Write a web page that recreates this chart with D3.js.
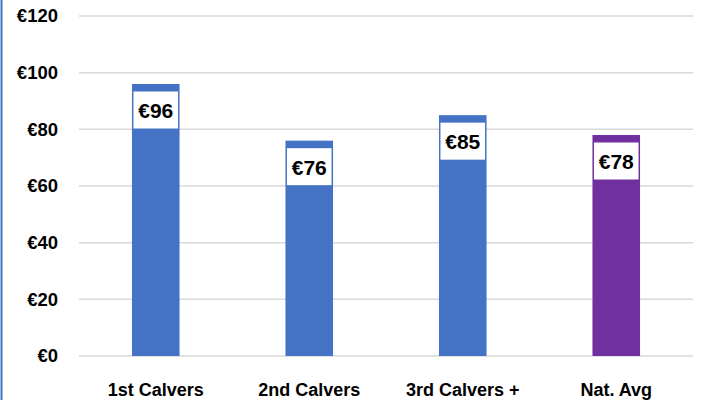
<!DOCTYPE html>
<html>
<head>
<meta charset="utf-8">
<script src="https://cdn.jsdelivr.net/npm/d3@7"></script>
<style>
  body { margin: 0; background: #fff; }
  text { font-family: "Liberation Sans", Arial, sans-serif; font-weight: bold; fill: #000; }
</style>
</head>
<body>
<div class="chart"></div>
<script>
// Data
var categories = ["1st Calvers", "2nd Calvers", "3rd Calvers +", "Nat. Avg"];
var values = [96, 76, 85, 78];
var barColors = ["#4472C4", "#4472C4", "#4472C4", "#7030A0"];
var yTicks = [0, 20, 40, 60, 80, 100, 120];

var svgWidth = 711;
var svgHeight = 400;
var margin = { top: 16, right: 18, bottom: 44, left: 79 };
var width = svgWidth - margin.left - margin.right;
var height = svgHeight - margin.top - margin.bottom;

var svg = d3.select(".chart")
  .append("svg")
  .attr("width", svgWidth)
  .attr("height", svgHeight);

// left border of chart area
svg.append("line")
  .attr("x1", 1.5).attr("x2", 1.5)
  .attr("y1", 0).attr("y2", svgHeight)
  .attr("stroke", "#4472C4")
  .attr("stroke-width", 2);

var chartGroup = svg.append("g")
  .attr("transform", `translate(${margin.left}, ${margin.top})`);

var x = d3.scaleBand()
  .domain(categories)
  .range([0, width])
  .paddingInner(0.69)
  .paddingOuter(0.345);

var y = d3.scaleLinear()
  .domain([0, 120])
  .range([height, 0]);

// gridlines
chartGroup.selectAll(".grid")
  .data(yTicks)
  .enter()
  .append("line")
  .attr("class", "grid")
  .attr("x1", 0)
  .attr("x2", width)
  .attr("y1", d => y(d))
  .attr("y2", d => y(d))
  .attr("stroke", "#d9d9d9")
  .attr("stroke-width", 1.5);

// y axis labels
var leftAxis = d3.axisLeft(y)
  .tickValues(yTicks)
  .tickSize(0)
  .tickPadding(21)
  .tickFormat(d => "€" + d);
var yAxisG = chartGroup.append("g").call(leftAxis);
yAxisG.select(".domain").remove();
yAxisG.selectAll("text")
  .attr("font-size", 18.5)
  .attr("font-family", "Liberation Sans, Arial, sans-serif")
  .attr("font-weight", "bold")
  .attr("fill", "#000");

// x axis labels
var bottomAxis = d3.axisBottom(x)
  .tickSize(0)
  .tickPadding(27);
var xAxisG = chartGroup.append("g")
  .attr("transform", `translate(0, ${height})`)
  .call(bottomAxis);
xAxisG.select(".domain").remove();
xAxisG.selectAll("text")
  .attr("font-size", 18)
  .attr("font-family", "Liberation Sans, Arial, sans-serif")
  .attr("font-weight", "bold")
  .attr("fill", "#000");

// bars
chartGroup.selectAll(".bar")
  .data(values)
  .enter()
  .append("rect")
  .attr("class", "bar")
  .attr("x", (d, i) => x(categories[i]))
  .attr("y", d => y(d))
  .attr("width", x.bandwidth())
  .attr("height", d => height - y(d))
  .attr("fill", (d, i) => barColors[i]);

// value label boxes
chartGroup.selectAll(".lblbox")
  .data(values)
  .enter()
  .append("rect")
  .attr("class", "lblbox")
  .attr("x", (d, i) => x(categories[i]) + 1.5)
  .attr("y", d => y(d) + 7.5)
  .attr("width", x.bandwidth() - 3)
  .attr("height", 37)
  .attr("fill", "#fff");

chartGroup.selectAll(".lbl")
  .data(values)
  .enter()
  .append("text")
  .attr("class", "lbl")
  .attr("x", (d, i) => x(categories[i]) + x.bandwidth() / 2)
  .attr("y", d => y(d) + 26.5)
  .attr("dy", "0.35em")
  .attr("text-anchor", "middle")
  .attr("font-size", 21)
  .text(d => "€" + d);
</script>
</body>
</html>
